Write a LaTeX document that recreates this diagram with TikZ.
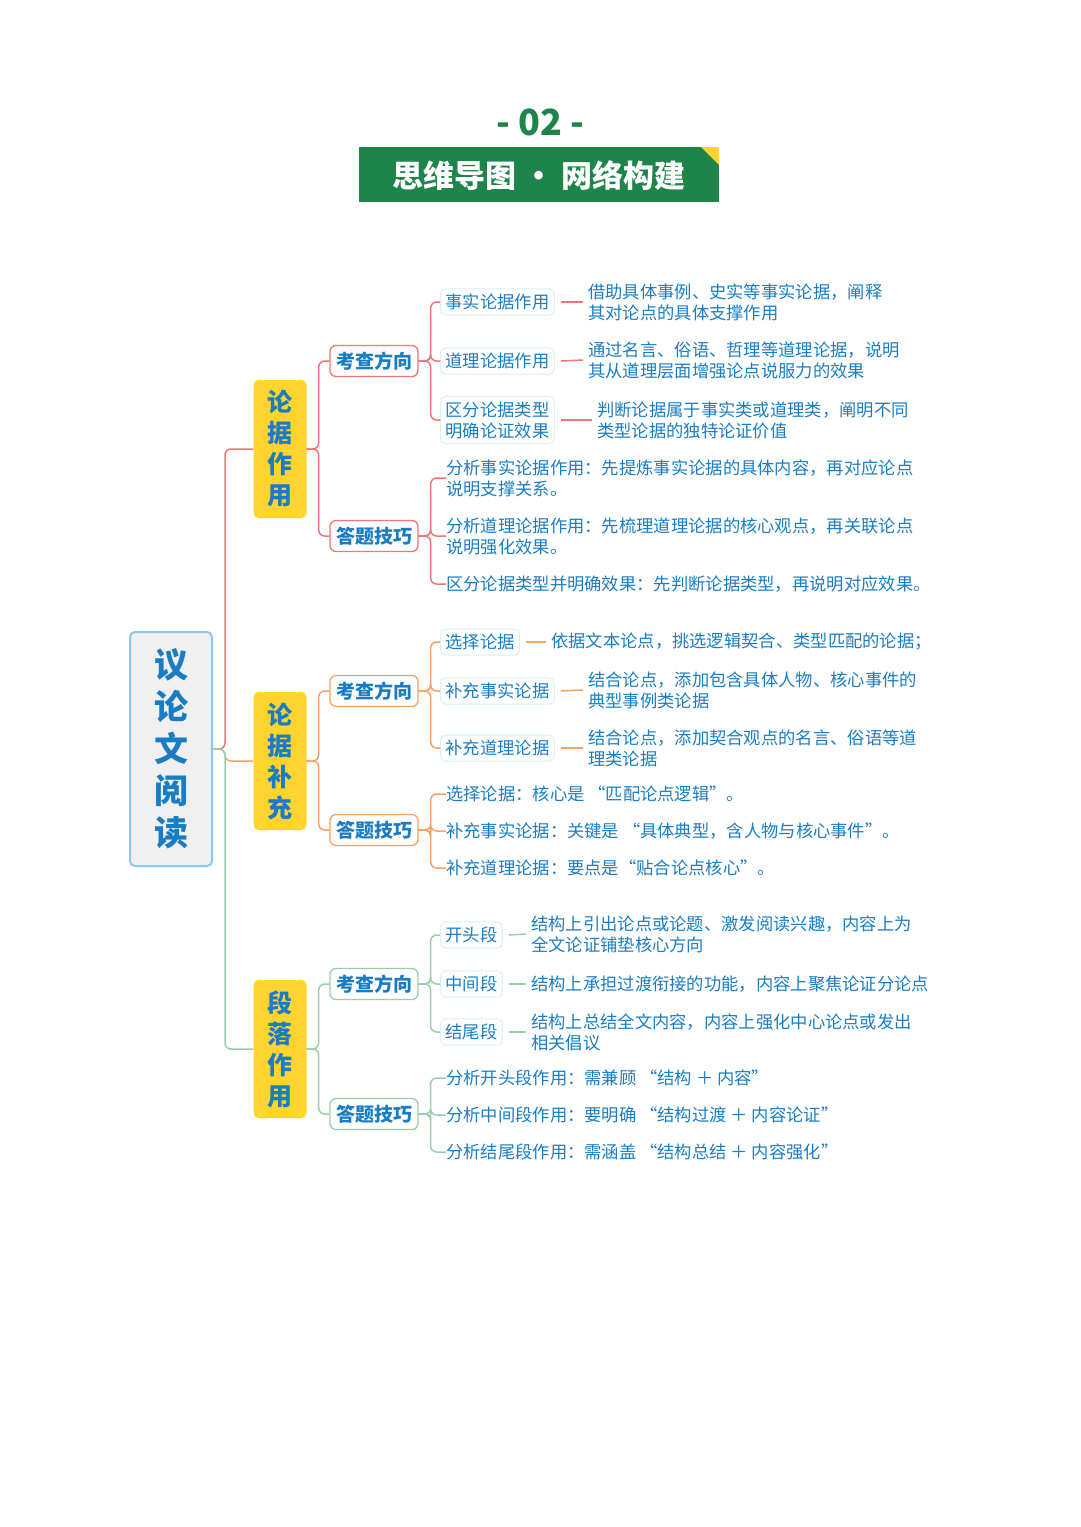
\documentclass[tikz,border=0pt]{standalone}
\usepackage{fontspec}
\setmainfont{Noto Sans CJK SC}
\usetikzlibrary{calc}
\definecolor{tblue}{HTML}{1A7DC4}
\definecolor{cred}{HTML}{F27474}
\definecolor{corg}{HTML}{F5A263}
\definecolor{cgrn}{HTML}{98CFAA}
\definecolor{hgrn}{HTML}{1F844A}
\definecolor{ylw}{HTML}{FFD42F}
\definecolor{lbl}{HTML}{8CC8EE}
\definecolor{lcy}{HTML}{D6F3F3}
\tikzset{
 root/.style={draw=lbl,line width=2pt,fill=gray!12,rounded corners=5,minimum width=82,minimum height=234,text=tblue,font=\fontsize{34}{42}\selectfont\bfseries,align=center},
 lone/.style={fill=ylw,rounded corners=5,minimum width=53,minimum height=138,text=tblue,font=\fontsize{25}{31}\selectfont\bfseries,align=center},
 ltwo/.style={draw=#1,line width=1.3pt,fill=white,rounded corners=6,minimum width=88,minimum height=31,inner sep=3,text=tblue,font=\fontsize{19}{22}\selectfont\bfseries},
 leaf/.style={draw=lcy,line width=1pt,rounded corners=5,inner sep=5,text=tblue,font=\fontsize{17.3}{21}\selectfont,align=left,anchor=west},
 txt/.style={inner sep=0,text=tblue,font=\fontsize{17.3}{21}\selectfont,align=left,anchor=west},
 con/.style={draw=#1,line width=1.5pt,rounded corners=6},
}
\newcommand{\brk}[3]{\draw[con=#1] (#2.east) -- ++(12,0) |- (#3.west);}
\newcommand{\dsh}[3]{\draw[con=#1] ($(#2.east)+(6,0)$) -- ($(#3.west)+(-5,0)$);}
\begin{document}
\begin{tikzpicture}[x=1pt,y=-1pt]
\useasboundingbox (0,0) rectangle (1080,1527);
% header
\node[text=hgrn,font=\fontsize{36}{40}\selectfont\bfseries] (num) at (540,122) {- 02 -};
\fill[hgrn] (359,147) rectangle (719,202);
\fill[ylw] (701,147) -- (719,147) -- (719,165) -- cycle;
\node[text=white,font=\fontsize{31}{34}\selectfont\bfseries] (ttl) at (539,176) {思维导图 · 网络构建};
% root
\node[root] (r) at (171,749) {议\\论\\文\\阅\\读};
\node[lone] (a) at (280,449) {论\\据\\作\\用};
\node[lone] (b) at (280,761) {论\\据\\补\\充};
\node[lone] (c) at (280,1049) {段\\落\\作\\用};
\brk{cred}{r}{a}
\brk{corg}{r}{b}
\brk{cgrn}{r}{c}
% branch a
\node[ltwo=cred] (a1) at (374,361) {考查方向};
\node[ltwo=cred] (a2) at (374,536) {答题技巧};
\brk{cred}{a}{a1}\brk{cred}{a}{a2}
\node[leaf] (a11) at (440,302) {事实论据作用};
\node[leaf] (a12) at (440,361) {道理论据作用};
\node[leaf] (a13) at (440,420) {区分论据类型\\明确论证效果};
\brk{cred}{a1}{a11}\brk{cred}{a1}{a12}\brk{cred}{a1}{a13}
\node[txt] (d11) at (588,302) {借助具体事例、史实等事实论据，阐释\\其对论点的具体支撑作用};
\node[txt] (d12) at (588,360) {通过名言、俗语、哲理等道理论据，说明\\其从道理层面增强论点说服力的效果};
\node[txt] (d13) at (597,420) {判断论据属于事实类或道理类，阐明不同\\类型论据的独特论证价值};
\dsh{cred}{a11}{d11}\dsh{cred}{a12}{d12}\dsh{cred}{a13}{d13}
\node[txt] (a21) at (446,478) {分析事实论据作用：先提炼事实论据的具体内容，再对应论点\\说明支撑关系。};
\node[txt] (a22) at (446,536) {分析道理论据作用：先梳理道理论据的核心观点，再关联论点\\说明强化效果。};
\node[txt] (a23) at (446,584) {区分论据类型并明确效果：先判断论据类型，再说明对应效果。};
\brk{cred}{a2}{a21}\brk{cred}{a2}{a22}\brk{cred}{a2}{a23}
% branch b
\node[ltwo=corg] (b1) at (374,691) {考查方向};
\node[ltwo=corg] (b2) at (374,830) {答题技巧};
\brk{corg}{b}{b1}\brk{corg}{b}{b2}
\node[leaf] (b11) at (440,642) {选择论据};
\node[leaf] (b12) at (440,691) {补充事实论据};
\node[leaf] (b13) at (440,748) {补充道理论据};
\brk{corg}{b1}{b11}\brk{corg}{b1}{b12}\brk{corg}{b1}{b13}
\node[txt] (e11) at (551,642) {依据文本论点，挑选逻辑契合、类型匹配的论据；};
\node[txt] (e12) at (588,690) {结合论点，添加包含具体人物、核心事件的\\典型事例类论据};
\node[txt] (e13) at (588,748) {结合论点，添加契合观点的名言、俗语等道\\理类论据};
\dsh{corg}{b11}{e11}\dsh{corg}{b12}{e12}\dsh{corg}{b13}{e13}
\node[txt] (b21) at (446,794) {选择论据：核心是 “匹配论点逻辑”。};
\node[txt] (b22) at (446,831) {补充事实论据：关键是 “具体典型，含人物与核心事件”。};
\node[txt] (b23) at (446,868) {补充道理论据：要点是“贴合论点核心”。};
\brk{corg}{b2}{b21}\brk{corg}{b2}{b22}\brk{corg}{b2}{b23}
% branch c
\node[ltwo=cgrn] (c1) at (374,984) {考查方向};
\node[ltwo=cgrn] (c2) at (374,1114) {答题技巧};
\brk{cgrn}{c}{c1}\brk{cgrn}{c}{c2}
\node[leaf] (c11) at (440,935) {开头段};
\node[leaf] (c12) at (440,984) {中间段};
\node[leaf] (c13) at (440,1032) {结尾段};
\brk{cgrn}{c1}{c11}\brk{cgrn}{c1}{c12}\brk{cgrn}{c1}{c13}
\node[txt] (f11) at (531,934) {结构上引出论点或论题、激发阅读兴趣，内容上为\\全文论证铺垫核心方向};
\node[txt] (f12) at (531,984) {结构上承担过渡衔接的功能，内容上聚焦论证分论点};
\node[txt] (f13) at (531,1032) {结构上总结全文内容，内容上强化中心论点或发出\\相关倡议};
\dsh{cgrn}{c11}{f11}\dsh{cgrn}{c12}{f12}\dsh{cgrn}{c13}{f13}
\node[txt] (c21) at (446,1078) {分析开头段作用：需兼顾 “结构 ＋ 内容”};
\node[txt] (c22) at (446,1115) {分析中间段作用：要明确 “结构过渡 ＋ 内容论证”};
\node[txt] (c23) at (446,1152) {分析结尾段作用：需涵盖 “结构总结 ＋ 内容强化”};
\brk{cgrn}{c2}{c21}\brk{cgrn}{c2}{c22}\brk{cgrn}{c2}{c23}
\end{tikzpicture}
\end{document}
